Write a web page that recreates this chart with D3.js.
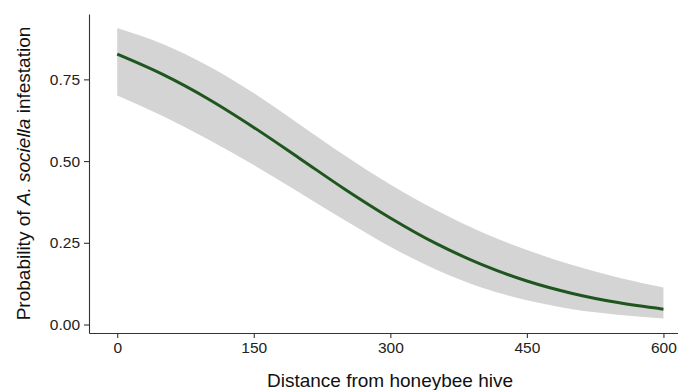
<!DOCTYPE html>
<html>
<head>
<meta charset="utf-8">
<script src="https://cdn.jsdelivr.net/npm/d3@7"></script>
<style>
  body { margin: 0; background: #fff; }
  svg { display: block; font-family: "Liberation Sans", Arial, sans-serif; }
  .axis path, .axis line { stroke: #333; stroke-width: 1.1; }
  .axis text { fill: #222; font-size: 15.5px; }
  .title { fill: #111; font-size: 19px; }
</style>
</head>
<body>
<script>
// distance from hive and fitted probability with its confidence band
var distance = [0, 50, 100, 150, 200, 250, 300, 350, 400, 450, 500, 550, 600];
var fitted   = [0.827, 0.765, 0.690, 0.603, 0.509, 0.414, 0.326, 0.248, 0.184, 0.133, 0.095, 0.067, 0.047];
var upper    = [0.907, 0.858, 0.791, 0.708, 0.613, 0.517, 0.428, 0.350, 0.283, 0.228, 0.182, 0.144, 0.113];
var lower    = [0.701, 0.638, 0.566, 0.488, 0.404, 0.319, 0.238, 0.168, 0.113, 0.074, 0.047, 0.030, 0.018];
var xTicks = [0, 150, 300, 450, 600];
var yTicks = [0, 0.25, 0.5, 0.75];

var width = 678, height = 390;

var svg = d3.select("body").append("svg")
  .attr("width", width)
  .attr("height", height);

var x = d3.scaleLinear().domain([-31, 616]).range([89, 678]);
var y = d3.scaleLinear().domain([-0.026, 0.95]).range([333, 14]);

var rows = distance.map(function(d, i) {
  return {x: d, fit: fitted[i], lo: lower[i], hi: upper[i]};
});

// band
svg.append("path")
  .datum(rows)
  .attr("fill", "#d4d4d4")
  .attr("d", d3.area()
    .x(function(d) { return x(d.x); })
    .y0(function(d) { return y(d.lo); })
    .y1(function(d) { return y(d.hi); })
    .curve(d3.curveMonotoneX));

// fitted line
svg.append("path")
  .datum(rows)
  .attr("fill", "none")
  .attr("stroke", "#1f561f")
  .attr("stroke-width", 3)
  .attr("d", d3.line()
    .x(function(d) { return x(d.x); })
    .y(function(d) { return y(d.fit); })
    .curve(d3.curveMonotoneX));

// axes
svg.append("g")
  .attr("class", "axis")
  .attr("transform", "translate(0,333)")
  .call(d3.axisBottom(x).tickValues(xTicks).tickSize(5).tickSizeOuter(0).tickPadding(4)
    .tickFormat(d3.format("d")));

svg.append("g")
  .attr("class", "axis")
  .attr("transform", "translate(89,0)")
  .call(d3.axisLeft(y).tickValues(yTicks).tickSize(5).tickSizeOuter(0).tickPadding(4)
    .tickFormat(d3.format(".2f")));

// axis titles
svg.append("text")
  .attr("class", "title")
  .attr("x", 390)
  .attr("y", 387)
  .attr("text-anchor", "middle")
  .text("Distance from honeybee hive");

var yt = svg.append("text")
  .attr("class", "title")
  .attr("transform", "translate(30,173.5) rotate(-90)")
  .attr("text-anchor", "middle");
yt.append("tspan").text("Probability of ");
yt.append("tspan").attr("font-style", "italic").text("A. sociella");
yt.append("tspan").text(" infestation");
</script>
</body>
</html>
